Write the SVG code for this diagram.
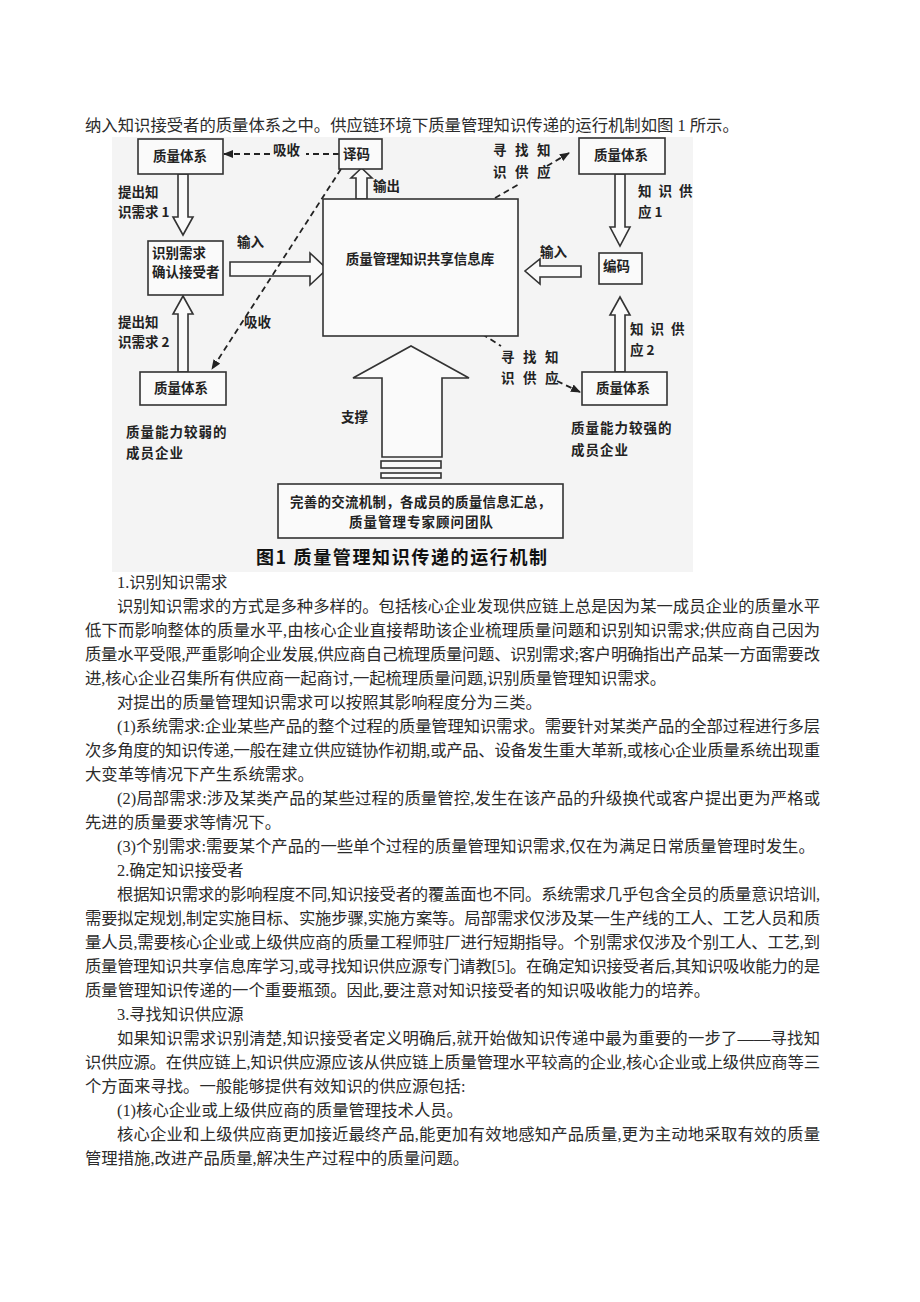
<svg xmlns="http://www.w3.org/2000/svg" width="920" height="1302" viewBox="0 0 920 1302">
<style>
.body{font-family:"Liberation Serif","Noto Sans CJK SC",serif;font-size:16.35px;fill:#2b2b2b}
.d{font-family:"Noto Sans CJK SC",sans-serif;font-weight:bold;font-size:13.5px;fill:#222}
.box{fill:#fafafa;stroke:#333;stroke-width:1.6}
.hollow{fill:#fafafa;stroke:#333;stroke-width:1.6;stroke-linejoin:miter}
.dash{fill:none;stroke:#222;stroke-width:1.8;stroke-dasharray:6 4}
.cap{font-family:"Noto Sans CJK SC",sans-serif;font-weight:bold;font-size:18px;fill:#111}
</style>
<defs>
<marker id="ah" viewBox="0 0 10 8" refX="9" refY="4" markerWidth="10" markerHeight="8" markerUnits="userSpaceOnUse" orient="auto">
<path d="M0,0 L10,4 L0,8 z" fill="#222"/>
</marker>
</defs>
<rect width="920" height="1302" fill="#ffffff"/>

<text class="body" x="85" y="131">纳入知识接受者的质量体系之中。供应链环境下质量管理知识传递的运行机制如图 1 所示。</text>

<rect x="112" y="137" width="581" height="435" fill="#f4f4f4"/>

<g id="connectors">
<polygon class="hollow" points="178,174 188,174 188,217 193,217 183,235 173,217 178,217"/>
<polygon class="hollow" points="178,372 188,372 188,314 193,314 183,296 173,314 178,314"/>
<polygon class="hollow" points="230,262 310,262 310,253 327,269 310,285 310,276 230,276"/>
<polygon class="hollow" points="356,199 356,178 351,178 361.5,168 372,178 367,178 367,199"/>
<polygon class="hollow" points="615,174 625,174 625,227 630,227 620,246 610,227 615,227"/>
<polygon class="hollow" points="615,372 625,372 625,315 630,315 620,297 610,315 615,315"/>
<polygon class="hollow" points="581,266 540,266 540,259 525,271 540,284 540,277 581,277"/>
<polygon class="hollow" points="382,457 382,378 353,378 411,346 469,378 442,378 442,457"/>
<rect class="hollow" x="381" y="461" width="60" height="7"/>
<rect class="hollow" x="381" y="473" width="60" height="5"/>
<line class="dash" x1="339" y1="154" x2="306" y2="154"/>
<line class="dash" x1="270" y1="154" x2="224" y2="154" marker-end="url(#ah)"/>
<line class="dash" x1="341" y1="169" x2="212" y2="369" marker-end="url(#ah)"/>
<line class="dash" x1="495" y1="198" x2="521" y2="183"/>
<line class="dash" x1="547" y1="166" x2="569" y2="153" marker-end="url(#ah)"/>
<line class="dash" x1="482" y1="334" x2="501" y2="346"/>
<line class="dash" x1="557" y1="381" x2="580" y2="392" marker-end="url(#ah)"/>
<text class="d" x="273" y="155">吸收</text>
<text class="d" x="373" y="191">输出</text>
<text class="d" x="118" y="197">提出知</text>
<text class="d" x="118" y="217">识需求 1</text>
<text class="d" x="237" y="247">输入</text>
<text class="d" x="244" y="327">吸收</text>
<text class="d" x="118" y="327">提出知</text>
<text class="d" x="118" y="347">识需求 2</text>
<text class="d" x="341" y="422">支撑</text>
<text class="d" x="493" y="155" letter-spacing="8.5">寻找知</text>
<text class="d" x="493" y="177" letter-spacing="8.5">识供应</text>
<text class="d" x="638" y="196" letter-spacing="7">知识供</text>
<text class="d" x="638" y="217">应 1</text>
<text class="d" x="540" y="257">输入</text>
<text class="d" x="630" y="334" letter-spacing="7">知识供</text>
<text class="d" x="630" y="355">应 2</text>
<text class="d" x="501" y="362" letter-spacing="8.5">寻找知</text>
<text class="d" x="501" y="383" letter-spacing="8.5">识供应</text>
</g>

<g id="qs-tl">
<rect class="box" x="138" y="139" width="85" height="35"/>
<text class="d" x="180" y="161" text-anchor="middle" font-size="14">质量体系</text>
</g>
<g id="yima">
<rect class="box" x="339" y="139" width="43" height="30"/>
<text class="d" x="343" y="159">译码</text>
</g>
<g id="shibie">
<rect class="box" x="148" y="241" width="75" height="54"/>
<text class="d" x="152" y="258" font-size="14">识别需求</text>
<text class="d" x="152" y="277" font-size="12">确认接受者</text>
</g>
<g id="kb">
<rect class="box" x="323" y="199" width="195" height="137"/>
<text class="d" x="420" y="264" text-anchor="middle" font-size="14">质量管理知识共享信息库</text>
</g>
<g id="qs-bl">
<rect class="box" x="140" y="372" width="86" height="33"/>
<text class="d" x="181" y="393" text-anchor="middle" font-size="14">质量体系</text>
</g>
<g id="weak">
<text class="d" x="126" y="437" font-size="14" letter-spacing="1">质量能力较弱的</text>
<text class="d" x="126" y="458" font-size="14" letter-spacing="1">成员企业</text>
</g>
<g id="qs-tr">
<rect class="box" x="579" y="138" width="86" height="36"/>
<text class="d" x="621" y="160" text-anchor="middle" font-size="14">质量体系</text>
</g>
<g id="bianma">
<rect class="box" x="599" y="253" width="43" height="31"/>
<text class="d" x="603" y="271">编码</text>
</g>
<g id="qs-br">
<rect class="box" x="582" y="372" width="85" height="33"/>
<text class="d" x="623" y="393" text-anchor="middle" font-size="14">质量体系</text>
</g>
<g id="strong">
<text class="d" x="571" y="433" font-size="14" letter-spacing="1">质量能力较强的</text>
<text class="d" x="571" y="455" font-size="14" letter-spacing="1">成员企业</text>
</g>
<g id="base">
<rect class="box" x="278" y="484" width="285" height="54"/>
<text class="d" x="290" y="507" textLength="261" lengthAdjust="spacing">完善的交流机制，各成员的质量信息汇总，</text>
<text class="d" x="349" y="527" textLength="144" lengthAdjust="spacing">质量管理专家顾问团队</text>
</g>
<text class="cap" x="256" y="564" textLength="291" lengthAdjust="spacing">图1 质量管理知识传递的运行机制</text>

<g id="article">
<text class="body" x="117" y="588">1.识别知识需求</text>
<text class="body" x="117" y="612" textLength="703" lengthAdjust="spacing">识别知识需求的方式是多种多样的。包括核心企业发现供应链上总是因为某一成员企业的质量水平</text>
<text class="body" x="85" y="636" textLength="735" lengthAdjust="spacing">低下而影响整体的质量水平,由核心企业直接帮助该企业梳理质量问题和识别知识需求;供应商自己因为</text>
<text class="body" x="85" y="660" textLength="735" lengthAdjust="spacing">质量水平受限,严重影响企业发展,供应商自己梳理质量问题、识别需求;客户明确指出产品某一方面需要改</text>
<text class="body" x="85" y="684" textLength="581" lengthAdjust="spacing">进,核心企业召集所有供应商一起商讨,一起梳理质量问题,识别质量管理知识需求。</text>
<text class="body" x="117" y="708">对提出的质量管理知识需求可以按照其影响程度分为三类。</text>
<text class="body" x="117" y="732" textLength="703" lengthAdjust="spacing">(1)系统需求:企业某些产品的整个过程的质量管理知识需求。需要针对某类产品的全部过程进行多层</text>
<text class="body" x="85" y="756" textLength="735" lengthAdjust="spacing">次多角度的知识传递,一般在建立供应链协作初期,或产品、设备发生重大革新,或核心企业质量系统出现重</text>
<text class="body" x="85" y="780">大变革等情况下产生系统需求。</text>
<text class="body" x="117" y="804" textLength="703" lengthAdjust="spacing">(2)局部需求:涉及某类产品的某些过程的质量管控,发生在该产品的升级换代或客户提出更为严格或</text>
<text class="body" x="85" y="828">先进的质量要求等情况下。</text>
<text class="body" x="117" y="852">(3)个别需求:需要某个产品的一些单个过程的质量管理知识需求,仅在为满足日常质量管理时发生。</text>
<text class="body" x="117" y="876">2.确定知识接受者</text>
<text class="body" x="117" y="900" textLength="703" lengthAdjust="spacing">根据知识需求的影响程度不同,知识接受者的覆盖面也不同。系统需求几乎包含全员的质量意识培训,</text>
<text class="body" x="85" y="924" textLength="735" lengthAdjust="spacing">需要拟定规划,制定实施目标、实施步骤,实施方案等。局部需求仅涉及某一生产线的工人、工艺人员和质</text>
<text class="body" x="85" y="948" textLength="735" lengthAdjust="spacing">量人员,需要核心企业或上级供应商的质量工程师驻厂进行短期指导。个别需求仅涉及个别工人、工艺,到</text>
<text class="body" x="85" y="972" textLength="735" lengthAdjust="spacing">质量管理知识共享信息库学习,或寻找知识供应源专门请教[5]。在确定知识接受者后,其知识吸收能力的是</text>
<text class="body" x="85" y="996">质量管理知识传递的一个重要瓶颈。因此,要注意对知识接受者的知识吸收能力的培养。</text>
<text class="body" x="117" y="1020">3.寻找知识供应源</text>
<text class="body" x="117" y="1044" textLength="703" lengthAdjust="spacing">如果知识需求识别清楚,知识接受者定义明确后,就开始做知识传递中最为重要的一步了——寻找知</text>
<text class="body" x="85" y="1068" textLength="735" lengthAdjust="spacing">识供应源。在供应链上,知识供应源应该从供应链上质量管理水平较高的企业,核心企业或上级供应商等三</text>
<text class="body" x="85" y="1092">个方面来寻找。一般能够提供有效知识的供应源包括:</text>
<text class="body" x="117" y="1116">(1)核心企业或上级供应商的质量管理技术人员。</text>
<text class="body" x="117" y="1140" textLength="703" lengthAdjust="spacing">核心企业和上级供应商更加接近最终产品,能更加有效地感知产品质量,更为主动地采取有效的质量</text>
<text class="body" x="85" y="1164">管理措施,改进产品质量,解决生产过程中的质量问题。</text>
</g>
</svg>
